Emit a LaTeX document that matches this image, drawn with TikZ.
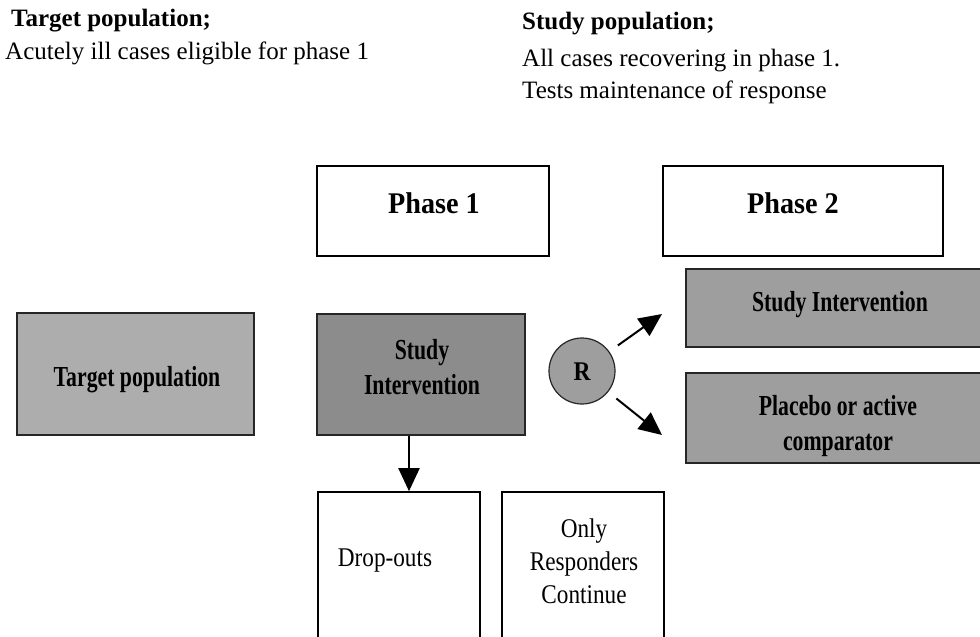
\documentclass[tikz,border=0pt]{standalone}
\usepackage{fontspec}
\setmainfont{Liberation Serif}
\newfontfamily\cnd[FakeStretch=0.86]{Liberation Serif}
\newfontfamily\cndb[FakeStretch=0.75]{Liberation Serif Bold}
\newfontfamily\phb[FakeStretch=0.94]{Liberation Serif Bold}
\newfontfamily\rb[FakeStretch=0.87]{Liberation Serif Bold}
\usetikzlibrary{arrows.meta,calc}
\definecolor{gLight}{gray}{0.68}
\definecolor{gDark}{gray}{0.55}
\definecolor{gMid}{gray}{0.62}
\tikzset{
  wbox/.style={draw=black, line width=1.6pt, fill=white, inner sep=0pt},
  gbox/.style={draw=black!85, line width=1.2pt, inner sep=0pt},
  toptxt/.style={anchor=base west, inner sep=0pt, font=\fontsize{25}{30}\selectfont},
  phtxt/.style={inner sep=0pt, font=\phb\fontsize{30}{33}\selectfont},
  wtxt/.style={inner sep=0pt, align=center, font=\cnd\fontsize{27}{33}\selectfont},
  gtxt/.style={inner sep=0pt, align=center, font=\cndb\fontsize{29}{35}\selectfont},
  arr/.style={line width=2pt, -{Triangle[length=23pt,width=21pt]}}
}
\begin{document}
\begin{tikzpicture}[x=1pt,y=-1pt]
\useasboundingbox (0,0) rectangle (980,637);
\clip (0,0) rectangle (980,637);
\fill[white] (0,0) rectangle (980,637);

% header texts
\node[toptxt] (tl1) at (11,27) {\bfseries Target population;};
\node[toptxt] (tl2) at (5,59) {Acutely ill cases eligible for phase 1};
\node[toptxt] (tr1) at (522,29) {\bfseries Study population;};
\node[toptxt] (tr2) at (522,66) {All cases recovering in phase 1.};
\node[toptxt] (tr3) at (522,98) {Tests maintenance of response};

% phase boxes
\node[wbox, minimum width=232pt, minimum height=90pt] (ph1) at (433,211) {};
\node[phtxt] (ph1t) at (434,203) {Phase 1};
\node[wbox, minimum width=280pt, minimum height=90pt] (ph2) at (803,211) {};
\node[phtxt] (ph2t) at (793,203) {Phase 2};

% target population
\node[gbox, fill=gLight, minimum width=237pt, minimum height=122pt] (tp) at (135.5,374) {};
\node[gtxt] (tpt) at (137,380) {Target population};

% study intervention phase 1
\node[gbox, fill=gDark, minimum width=208pt, minimum height=121pt] (si) at (421,374.5) {};
\node[gtxt] (sit) at (422,367) {Study\\Intervention};

% randomisation
\node[gbox, fill=gMid, circle, minimum size=66pt] (R) at (582,371) {};
\node[inner sep=0pt, font=\rb\fontsize{27}{30}\selectfont] (Rt) at (582,372) {R};

% phase 2 arms
\node[gbox, fill=gMid, minimum width=304pt, minimum height=78pt] (s2) at (838,308) {};
\node[gtxt] (s2t) at (840,305) {Study Intervention};
\node[gbox, fill=gMid, minimum width=304pt, minimum height=90pt] (pc) at (838,418) {};
\node[gtxt] (pct) at (838,426) {Placebo or active\\comparator};

% bottom boxes
\node[wbox, minimum width=162pt, minimum height=160pt] (dr) at (399,572) {};
\node[wtxt] (drt) at (385,561) {Drop-outs};
\node[wbox, minimum width=162pt, minimum height=160pt] (rs) at (583,572) {};
\node[wtxt] (rst) at (584,561) {Only\\Responders\\Continue};

% arrows
\coordinate (t1) at (662,314);
\coordinate (t2) at (662,435);
\draw[arr] ($(R.center)!44pt!(t1)$) -- (t1);
\draw[arr] ($(R.center)!44pt!(t2)$) -- (t2);
\draw[arr] (si.south -| 409,0) -- (dr.north -| 409,0);
\end{tikzpicture}
\end{document}
